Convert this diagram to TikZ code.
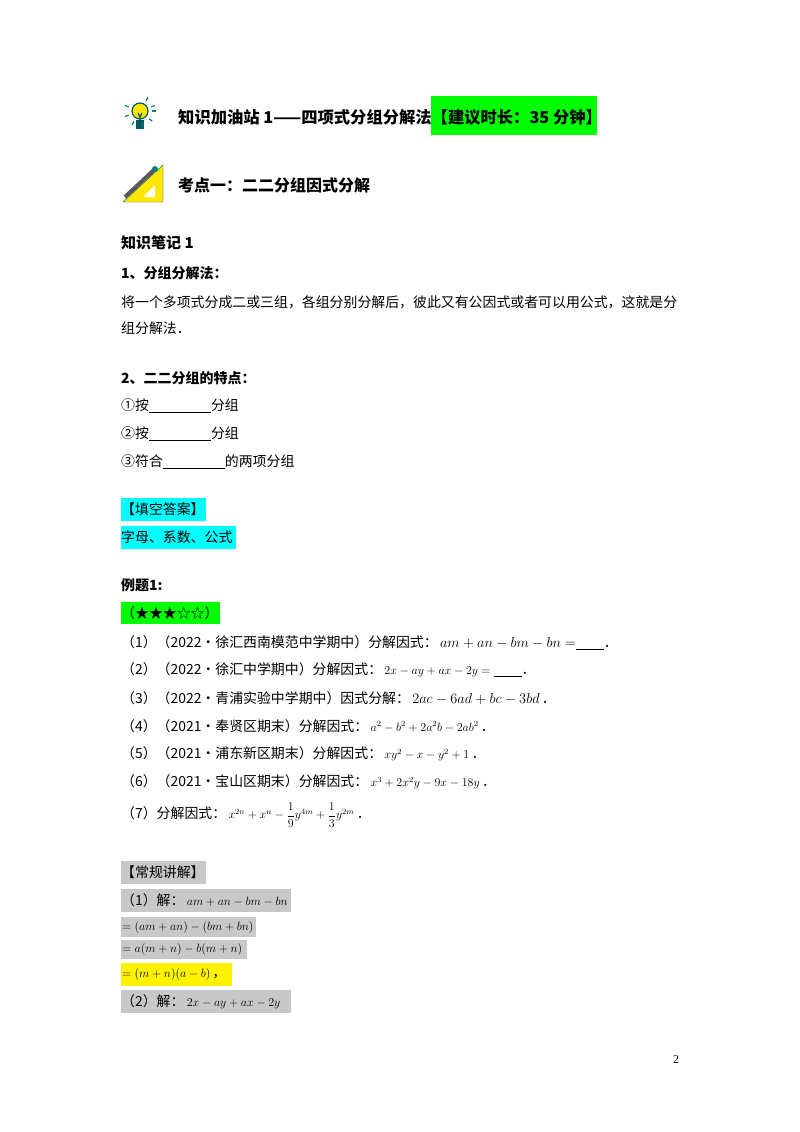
\documentclass[tikz,border=0pt]{standalone}
\usepackage{fontspec}
\usepackage{amsmath}
\setmainfont{Liberation Serif}
\newfontfamily\cjk{Noto Sans CJK SC}
\definecolor{hg}{RGB}{0,255,0}
\definecolor{hc}{RGB}{0,255,255}
\definecolor{hgr}{RGB}{200,200,200}
\newcommand{\sm}{\fontsize{12}{14}\selectfont}
\begin{document}
\begin{tikzpicture}[x=1pt,y=-1pt,
  t/.style={anchor=west,inner sep=0pt,font=\cjk\fontsize{13.9}{16}\selectfont},
  h/.style={anchor=west,inner sep=0pt,font=\cjk\bfseries\fontsize{14}{17}\selectfont},
  m/.style={anchor=west,inner sep=0pt,font=\fontsize{13}{16}\selectfont}]
\useasboundingbox[fill=white] (0,0) rectangle (800,1132);
% backgrounds
\fill[hg] (431,96) rectangle (597,135);
\fill[hc] (121,498) rectangle (206,521);
\fill[hc] (121,526) rectangle (236,549);
\fill[hg] (121,602) rectangle (220,624);
\fill[hgr] (121,861) rectangle (206,884);
\fill[hgr] (121,889) rectangle (291,912);
\fill[hgr] (121,917) rectangle (256,937);
\fill[hgr] (121,940) rectangle (247,959);
\fill[yellow] (121,963) rectangle (232,986);
\fill[hgr] (121,990) rectangle (291,1013);
% icons
\begin{scope}[shift={(140,117)}]
\fill[yellow!90!orange,draw=teal!70!black,line width=1.2] (0,-6) circle (8);
\fill[teal!70!black] (-4,3) rectangle (4,12);
\draw[teal!70!black,line width=1.2] (-2,-4)--(0,0)--(2,-4) (0,0)--(0,3);
\foreach \a in {0,40,80,120,160,200,340,300}{\draw[teal,line width=1.2] (\a:12)++(0,-6)--++(\a:4);}
\end{scope}
\begin{scope}[shift={(143,185)}]
\fill[yellow!90!orange,draw=teal!70!black] (-20,17)--(20,17)--(20,-20)--cycle;
\fill[white] (0,12)--(12,12)--(12,0)--cycle;
\draw[gray!70!black,line width=4] (-18,12)--(12,-16);
\fill[teal] (12,-16) circle (3);
\end{scope}
% headers
\node[h,font=\cjk\bfseries\fontsize{16.3}{18}\selectfont] (title) at (178,117) {知识加油站 1——四项式分组分解法【建议时长：35 分钟】};
\node[h,font=\cjk\bfseries\fontsize{16}{18}\selectfont] (kd) at (178,185) {考点一：二二分组因式分解};
\node[h,font=\cjk\bfseries\fontsize{15}{18}\selectfont] (bj) at (121,243) {知识笔记 1};
\node[h] (a1) at (121,273) {1、分组分解法：};
\node[t] (l1) at (121,302) {将一个多项式分成二或三组，各组分别分解后，彼此又有公因式或者可以用公式，这就是分};
\node[t] (l2) at (121,328) {组分解法．};
\node[h] (a2) at (121,378) {2、二二分组的特点：};
\node[t] (c1) at (121,406) {①按\underline{\hspace{62pt}}分组};
\node[t] (c2) at (121,434) {②按\underline{\hspace{62pt}}分组};
\node[t] (c3) at (121,462) {③符合\underline{\hspace{62pt}}的两项分组};
\node[t] (ta) at (121,509) {【填空答案】};
\node[t] (ans) at (121,537) {字母、系数、公式};
\node[h] (lt) at (121,585) {例题1:};
\node[t] (st) at (121,613) {（★★★☆☆）};
\node[t] (q1) at (121,643) {（1）（2022•徐汇西南模范中学期中）分解因式：\,$am+an-bm-bn=$\underline{\hspace{28pt}}．};
\node[t] (q2) at (121,670) {（2）（2022•徐汇中学期中）分解因式：\,{\sm$2x-ay+ax-2y=$} \underline{\hspace{28pt}}．};
\node[t] (q3) at (121,698) {（3）（2022•青浦实验中学期中）因式分解：\,$2ac-6ad+bc-3bd$\,．};
\node[t] (q4) at (121,726) {（4）（2021•奉贤区期末）分解因式：\,{\sm$a^2-b^2+2a^2b-2ab^2$}\,．};
\node[t] (q5) at (121,754) {（5）（2021•浦东新区期末）分解因式：\,{\sm$xy^2-x-y^2+1$}\,．};
\node[t] (q6) at (121,782) {（6）（2021•宝山区期末）分解因式：\,{\sm$x^3+2x^2y-9x-18y$}\,．};
\node[t] (q7) at (121,815) {（7）分解因式：\,{\sm$x^{2n}+x^n-\dfrac{1}{9}y^{4m}+\dfrac{1}{3}y^{2m}$}\,．};
\node[t] (cg) at (121,872) {【常规讲解】};
\node[t] (s1) at (121,900) {（1）解：\,{\fontsize{12.5}{14}\selectfont$am+an-bm-bn$}};
\node[m] (s2) at (122,927) {$=(am+an)-(bm+bn)$};
\node[m] (s3) at (122,949) {$=a(m+n)-b(m+n)$};
\node[m] (s4) at (122,974) {$=(m+n)(a-b)$\,{\cjk ，}};
\node[t] (s5) at (121,1002) {（2）解：\,{\fontsize{12.5}{14}\selectfont$2x-ay+ax-2y$}};
\node[anchor=center,inner sep=0pt,font=\fontsize{12}{14}\selectfont] (pg) at (676,1060) {2};
\end{tikzpicture}
\end{document}
